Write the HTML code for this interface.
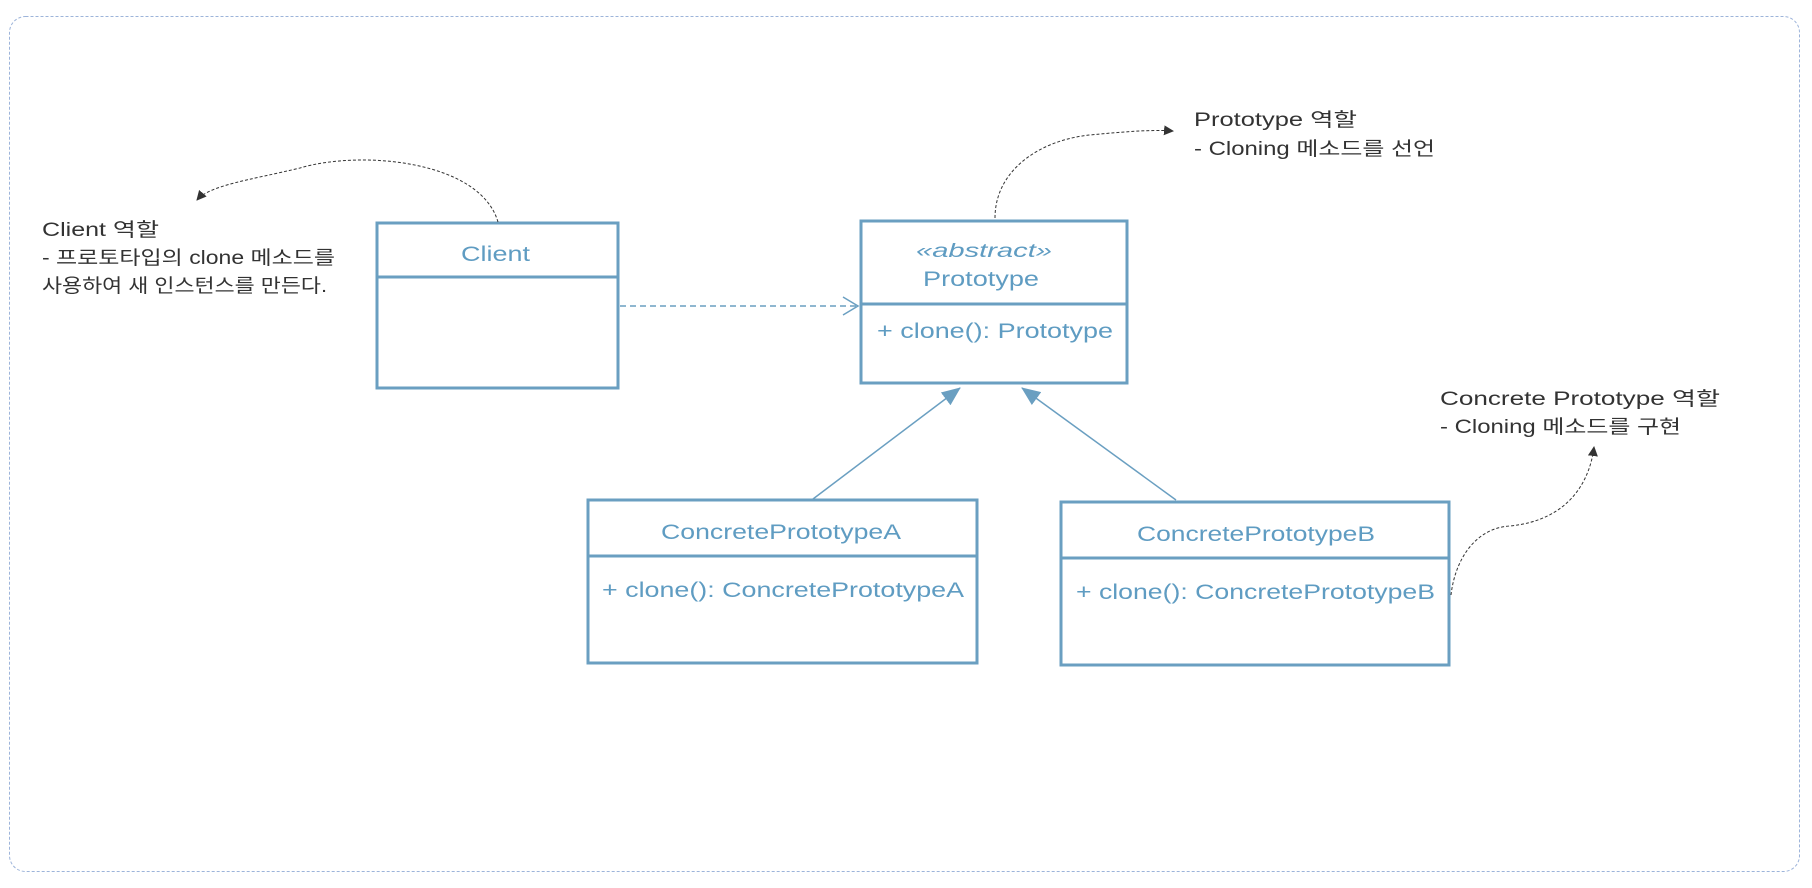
<!DOCTYPE html>
<html><head><meta charset="utf-8"><style>
html,body{margin:0;padding:0;background:#fff;}
svg{display:block;}
.n{font-family:"Liberation Sans","Noto Sans CJK KR",sans-serif;font-size:19px;fill:#333;}
.b{font-family:"Liberation Sans","Noto Sans CJK KR",sans-serif;fill:#5f9cc2;}
</style></head><body>
<svg width="1812" height="888" viewBox="0 0 1812 888" xmlns="http://www.w3.org/2000/svg">
<defs>
<marker id="ah" markerWidth="10" markerHeight="10" refX="9" refY="5" orient="auto" markerUnits="userSpaceOnUse"><path d="M0,0 L10,5 L0,10 z" fill="#333"/></marker>
<marker id="tri" markerWidth="20" markerHeight="20" refX="18" refY="10" orient="auto" markerUnits="userSpaceOnUse"><path d="M0,2 L19,10 L0,18 z" fill="#6a9fc1"/></marker>
</defs>
<rect x="9.5" y="16.5" width="1790" height="855" rx="16" fill="none" stroke="#9db4da" stroke-width="1" stroke-dasharray="3,2"/>

<!-- Client -->
<rect x="377" y="223" width="241" height="165" fill="#fff" stroke="#6a9fc1" stroke-width="3"/>
<line x1="377" y1="277" x2="618" y2="277" stroke="#6a9fc1" stroke-width="3"/>
<text class="b" x="461" y="261" font-size="21" textLength="69" lengthAdjust="spacingAndGlyphs">Client</text>

<!-- Prototype -->
<rect x="861" y="221" width="266" height="162" fill="#fff" stroke="#6a9fc1" stroke-width="3"/>
<line x1="861" y1="304" x2="1127" y2="304" stroke="#6a9fc1" stroke-width="3"/>
<text class="b" x="916" y="257" font-size="19" font-style="italic" textLength="136" lengthAdjust="spacingAndGlyphs">«abstract»</text>
<text class="b" x="923" y="286" font-size="21" textLength="116" lengthAdjust="spacingAndGlyphs">Prototype</text>
<text class="b" x="877" y="338" font-size="21" textLength="236" lengthAdjust="spacingAndGlyphs">+ clone(): Prototype</text>

<!-- A -->
<rect x="588" y="500" width="389" height="163" fill="#fff" stroke="#6a9fc1" stroke-width="3"/>
<line x1="588" y1="556" x2="977" y2="556" stroke="#6a9fc1" stroke-width="3"/>
<text class="b" x="661" y="539" font-size="21" textLength="240" lengthAdjust="spacingAndGlyphs">ConcretePrototypeA</text>
<text class="b" x="602" y="597" font-size="21" textLength="362" lengthAdjust="spacingAndGlyphs">+ clone(): ConcretePrototypeA</text>

<!-- B -->
<rect x="1061" y="502" width="388" height="163" fill="#fff" stroke="#6a9fc1" stroke-width="3"/>
<line x1="1061" y1="558" x2="1449" y2="558" stroke="#6a9fc1" stroke-width="3"/>
<text class="b" x="1137" y="541" font-size="21" textLength="238" lengthAdjust="spacingAndGlyphs">ConcretePrototypeB</text>
<text class="b" x="1076" y="599" font-size="21" textLength="359" lengthAdjust="spacingAndGlyphs">+ clone(): ConcretePrototypeB</text>

<!-- dependency -->
<line x1="620" y1="306" x2="857" y2="306" stroke="#6a9fc1" stroke-width="1.5" stroke-dasharray="6,4"/>
<path d="M843,297 L858,306 L843,315" fill="none" stroke="#6a9fc1" stroke-width="1.5"/>

<!-- inheritance -->
<line x1="813" y1="499" x2="960" y2="388" stroke="#6a9fc1" stroke-width="1.5" marker-end="url(#tri)"/>
<line x1="1176" y1="500" x2="1022" y2="388" stroke="#6a9fc1" stroke-width="1.5" marker-end="url(#tri)"/>

<!-- annotations -->
<text class="n" x="42" y="236" textLength="117" lengthAdjust="spacingAndGlyphs">Client 역할</text>
<text class="n" x="42" y="264" textLength="293" lengthAdjust="spacingAndGlyphs">- 프로토타입의 clone 메소드를</text>
<text class="n" x="42" y="292" textLength="285" lengthAdjust="spacingAndGlyphs">사용하여 새 인스턴스를 만든다.</text>
<text class="n" x="1194" y="126" textLength="163" lengthAdjust="spacingAndGlyphs">Prototype 역할</text>
<text class="n" x="1194" y="155" textLength="241" lengthAdjust="spacingAndGlyphs">- Cloning 메소드를 선언</text>
<text class="n" x="1440" y="405" textLength="280" lengthAdjust="spacingAndGlyphs">Concrete Prototype 역할</text>
<text class="n" x="1440" y="433" textLength="241" lengthAdjust="spacingAndGlyphs">- Cloning 메소드를 구현</text>

<path d="M498,222 C480,160 360,150 300,168 C250,180 210,185 197,200" fill="none" stroke="#333" stroke-width="1" stroke-dasharray="3,2" marker-end="url(#ah)"/>
<path d="M995,218 C995,170 1040,140 1090,135 C1140,130 1160,130 1173,131" fill="none" stroke="#333" stroke-width="1" stroke-dasharray="3,2" marker-end="url(#ah)"/>
<path d="M1451,595 C1455,560 1475,528 1510,526 C1570,520 1590,480 1594,447" fill="none" stroke="#333" stroke-width="1" stroke-dasharray="3,2" marker-end="url(#ah)"/>
</svg>
</body></html>
